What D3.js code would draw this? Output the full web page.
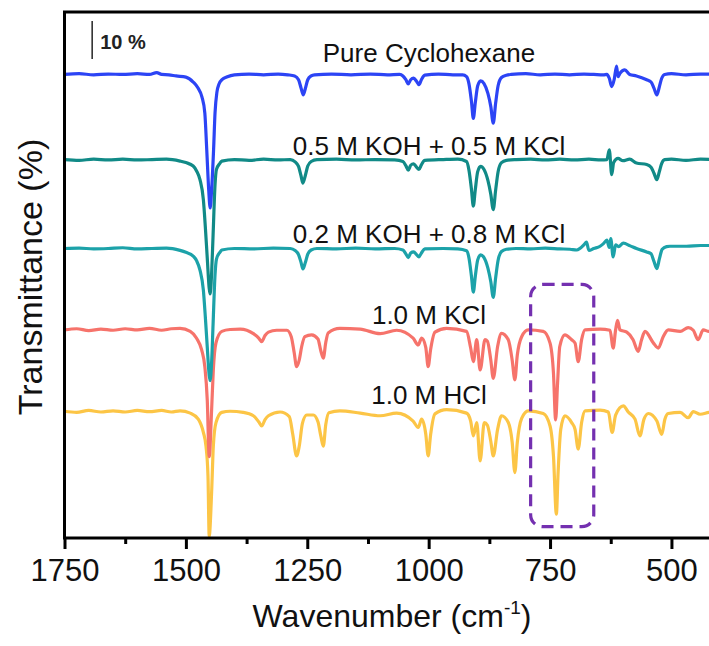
<!DOCTYPE html>
<html>
<head>
<meta charset="utf-8">
<script src="https://cdn.jsdelivr.net/npm/d3@7"></script>
<style>
  body { margin: 0; background: #fff; }
  svg { display: block; font-family: Arial, "Liberation Sans", sans-serif; }
</style>
</head>
<body>
<svg id="chart" width="709" height="646"></svg>
<script>
// ---- data ----
const majorTicks = [1750, 1500, 1250, 1000, 750, 500];
const minorTicks = [1625, 1375, 1125, 875, 625];
const seriesNames = ["Pure Cyclohexane", "0.5 M KOH + 0.5 M KCl", "0.2 M KOH + 0.8 M KCl", "1.0 M KCl", "1.0 M HCl"];
const seriesColors = ["#2c44f5", "#118a87", "#1ca2a9", "#f6736b", "#fcc546"];
const seriesOffsets = [26.5, 4, -19.5, -41, -62.5];

// [wavenumber (cm-1), transmittance (%)]
const cyclohexane = [
  [1750,96.0],[1720,96.2],[1690,95.9],[1660,96.1],[1630,96.0],[1600,96.2],[1575,96.0],[1560,96.5],[1550,96.0],[1535,95.9],
  [1520,95.6],[1500,95.3],[1485,94.0],[1475,92.4],[1467,90.1],[1461,85.8],[1457,76.0],[1453,65.5],[1450,60.7],[1447,65.5],
  [1443,76.0],[1440,85.8],[1436,91.4],[1432,93.4],[1425,94.7],[1416,95.3],[1400,95.9],[1370,96.1],[1340,95.9],[1310,96.1],
  [1290,95.9],[1276,95.6],[1268,94.6],[1263,92.5],[1258,90.6],[1254,92.3],[1249,94.6],[1242,95.6],[1235,95.9],[1200,96.1],
  [1160,95.9],[1120,96.1],[1085,95.9],[1060,96.0],[1053,95.6],[1047,94.6],[1042,93.5],[1037,94.6],[1031,95.0],[1025,94.2],
  [1020,93.3],[1015,94.6],[1008,95.8],[980,96.1],[950,95.9],[930,95.9],[922,95.4],[917,93.5],[912,89.0],[908,84.4],
  [904,88.5],[899,93.0],[893,94.3],[886,93.6],[878,91.0],[872,87.5],[867,83.1],[862,88.5],[857,93.0],[850,95.2],
  [840,95.8],[830,96.0],[800,96.2],[770,95.9],[740,96.1],[710,95.9],[680,96.1],[660,96.0],[640,95.9],[633,96.0],
  [628,95.0],[623,92.8],[618,94.6],[613,98.2],[610,95.4],[606,96.3],[596,97.2],[586,96.0],[572,95.6],[551,94.6],
  [542,94.0],[536,92.4],[530,90.6],[525,92.7],[520,95.0],[514,96.0],[500,96.2],[470,95.9],[440,96.1],[400,96.0]
];
const koh05 = [
  [1750,96.0],[1720,95.8],[1690,96.1],[1660,95.9],[1630,96.1],[1600,95.9],[1570,96.0],[1540,96.1],[1512,95.6],[1500,95.2],
  [1485,94.3],[1478,93.0],[1471,90.7],[1464,85.4],[1460,78.3],[1456,70.0],[1452,62.0],[1450,60.5],[1447,66.0],[1444,76.0],
  [1440,89.3],[1437,93.4],[1430,95.0],[1426,95.6],[1400,96.0],[1370,95.8],[1340,96.1],[1310,95.9],[1285,96.0],[1275,95.4],
  [1268,94.2],[1263,91.8],[1259,89.8],[1254,91.8],[1249,94.3],[1242,95.5],[1230,96.0],[1190,96.1],[1150,95.9],[1110,96.0],
  [1070,95.9],[1053,95.5],[1047,94.4],[1042,93.2],[1037,94.5],[1031,94.9],[1025,94.0],[1020,93.4],[1015,94.6],[1008,95.8],
  [970,96.0],[940,96.1],[922,95.5],[917,93.2],[912,88.3],[908,83.7],[904,88.0],[899,92.8],[893,94.2],[886,93.4],
  [878,90.5],[872,86.8],[867,82.8],[862,88.0],[857,92.8],[850,95.2],[840,95.8],[820,96.0],[790,96.1],[760,95.9],
  [730,96.1],[700,95.9],[670,96.1],[645,95.9],[633,96.0],[628,98.6],[623,92.0],[619,95.2],[610,96.3],[600,95.7],
  [586,96.1],[572,95.1],[551,94.7],[542,94.0],[536,92.4],[530,90.7],[525,92.8],[520,95.0],[514,96.0],[500,96.1],
  [470,95.8],[440,96.1],[400,96.0]
];
const koh02 = [
  [1750,96.0],[1720,96.1],[1690,95.9],[1660,96.0],[1630,96.2],[1600,95.9],[1570,96.0],[1540,96.1],[1512,95.5],[1500,95.0],
  [1485,94.0],[1478,92.8],[1471,90.3],[1464,85.0],[1460,78.0],[1456,70.0],[1452,62.5],[1450,61.1],[1447,66.0],[1444,76.0],
  [1440,89.0],[1437,93.2],[1430,95.0],[1426,95.6],[1400,96.0],[1360,95.9],[1320,96.1],[1285,96.0],[1275,95.5],[1268,94.4],
  [1263,92.4],[1259,90.6],[1254,92.3],[1249,94.5],[1242,95.6],[1230,96.0],[1190,95.9],[1150,96.1],[1110,95.9],[1070,96.0],
  [1053,95.6],[1047,94.6],[1042,93.6],[1037,94.8],[1031,95.1],[1025,94.4],[1020,93.8],[1015,94.8],[1008,95.9],[970,96.0],
  [940,95.9],[922,95.4],[917,93.5],[912,88.8],[908,84.5],[904,88.6],[899,93.0],[893,94.3],[886,93.6],[878,90.8],
  [872,87.2],[867,83.1],[862,88.3],[857,92.9],[850,95.2],[840,95.8],[820,96.0],[790,95.9],[760,96.1],[730,95.9],
  [709,95.8],[695,95.6],[680,97.0],[675,97.7],[670,95.5],[660,96.0],[647,96.6],[640,97.3],[633,98.2],[628,96.3],
  [625,98.6],[620,93.8],[615,97.0],[609,96.5],[599,97.4],[585,96.7],[572,96.0],[551,95.1],[542,94.6],[536,92.6],
  [530,90.7],[525,93.2],[519,95.8],[510,96.5],[503,96.6],[469,96.6],[440,96.8],[423,96.8],[400,96.8]
];
const kcl = [
  [1750,96.0],[1725,96.3],[1700,95.8],[1675,96.2],[1650,95.9],[1625,96.3],[1600,96.0],[1575,96.4],[1550,95.9],[1530,96.3],
  [1512,96.4],[1491,95.6],[1478,93.8],[1467.5,90.7],[1461,86.3],[1456,77.5],[1452,62.5],[1447,74.9],[1443.5,85.4],[1438,92.6],
  [1426,95.6],[1409,96.1],[1388,96.2],[1361,95.0],[1350,93.8],[1344,92.9],[1337,94.5],[1330,95.4],[1313,95.9],[1292,95.9],
  [1283,94.2],[1277,90.0],[1272,86.3],[1266.5,88.1],[1261.5,91.6],[1255,94.2],[1241,94.7],[1228,93.6],[1222,90.4],[1217,88.5],
  [1212,92.6],[1207,95.2],[1183,96.4],[1141,96.2],[1100,95.0],[1066,95.9],[1032,93.8],[1021.5,92.0],[1014.5,93.8],[1006,91.4],
  [1001,86.3],[996,90.8],[987,95.4],[963,96.4],[922,95.6],[913.5,91.2],[908,87.6],[901,93.4],[894,85.4],[884,93.4],
  [879,93.0],[872,88.0],[867,83.2],[858,91.6],[850,95.1],[836,93.4],[828,88.0],[822.5,82.8],[817.5,89.3],[808.5,94.2],
  [795,96.0],[764,95.6],[750,92.5],[743,84.6],[738.5,72.2],[734.5,82.0],[730,91.6],[719.5,94.7],[705.5,93.4],[698.5,92.5],
  [692,87.6],[685,93.4],[678,96.0],[647,96.2],[626.5,95.9],[620,91.2],[615,96.0],[611,98.5],[606,96.0],[592,95.4],
  [579,93.4],[568.5,90.3],[561.5,93.4],[554.5,95.6],[537,92.5],[527,91.2],[517,94.2],[506.5,96.0],[482,95.6],[465.5,96.6],
  [455,95.9],[445,93.4],[434.5,96.0],[423,95.6],[400,96.0]
];
const hcl = [
  [1750,96.0],[1725,95.7],[1700,96.2],[1675,95.8],[1650,96.1],[1625,95.8],[1600,96.2],[1575,95.9],[1550,96.2],[1530,95.8],
  [1512,96.1],[1491,95.5],[1474.5,93.9],[1464,90.4],[1458.6,86.8],[1454.5,78.9],[1452,63.0],[1447,74.6],[1443.5,86.8],[1438,93.0],
  [1426,95.7],[1409,96.0],[1382,95.7],[1361,94.8],[1350,93.2],[1344,92.1],[1337,93.8],[1330,94.8],[1306,95.8],[1287,94.6],
  [1280,90.0],[1272,84.2],[1266.5,86.8],[1260,92.8],[1251,95.0],[1237.6,95.0],[1228,93.2],[1222,89.4],[1217,86.8],[1212,92.4],
  [1205.5,95.6],[1183,96.1],[1141,95.5],[1100,94.8],[1066,95.5],[1032,93.4],[1021.5,91.7],[1014.5,93.9],[1006,90.0],[1001,84.2],
  [996,89.8],[987,95.3],[963,96.4],[922,95.5],[913.5,93.4],[908,89.5],[901,93.0],[894,82.9],[885.5,93.0],[879,92.3],
  [872,88.0],[867,84.2],[858,91.2],[850,94.8],[836,93.0],[828,87.8],[822.5,79.8],[817.5,87.7],[808.5,94.1],[795,96.1],
  [764,95.4],[750,92.1],[743,84.2],[737,68.8],[733.5,79.6],[728,91.2],[719.5,94.8],[705.5,93.0],[698.5,91.2],[692,86.0],
  [685,93.0],[678,96.1],[647,96.3],[630,95.8],[622,90.4],[615,95.0],[599,97.4],[589,95.8],[575,93.9],[565,89.5],
  [556.5,93.9],[547.5,95.4],[530,93.4],[520,89.9],[513.5,93.9],[506.5,95.4],[482,95.7],[465.5,94.3],[455,95.9],[441,95.2],
  [423,95.7],[400,96.0]
];
const spectra = [cyclohexane, koh05, koh02, kcl, hcl];

// highlighted band (cm-1) and its vertical extent (stacked %)
const highlightBand = [790, 660];
const highlightLevels = [3, 67];
// scale bar: 10 % at ~1693 cm-1
const scaleBarAt = 1693;
const scaleBarLevels = [126.6, 136.6];

// ---- layout ----
const svg = d3.select("#chart");
const plot = { left: 64.5, right: 720, top: 12, bottom: 538 };

const x = d3.scaleLinear().domain([1750, 400]).range([plot.left, plot.right]);
const y = d3.scaleLinear().domain([0, 139]).range([plot.bottom, plot.top]);

svg.append("defs").append("clipPath").attr("id", "clip")
  .append("rect")
  .attr("x", plot.left).attr("y", plot.top)
  .attr("width", plot.right - plot.left).attr("height", plot.bottom - plot.top);

const line = d3.line()
  .x(d => x(d[0]))
  .y(d => y(d[1]))
  .curve(d3.curveMonotoneX);

// draw bottom-most trace first so the blue one sits on top
const traceGroup = svg.append("g").attr("clip-path", "url(#clip)");
d3.range(spectra.length).reverse().forEach(i => {
  traceGroup.append("path")
    .datum(spectra[i].map(d => [d[0], d[1] + seriesOffsets[i]]))
    .attr("fill", "none")
    .attr("stroke", seriesColors[i])
    .attr("stroke-width", 3.2)
    .attr("stroke-linejoin", "round")
    .attr("d", line);
});

// dashed highlight box
svg.append("rect")
  .attr("x", x(highlightBand[0]))
  .attr("y", y(highlightLevels[1]))
  .attr("width", x(highlightBand[1]) - x(highlightBand[0]))
  .attr("height", y(highlightLevels[0]) - y(highlightLevels[1]))
  .attr("rx", 12).attr("ry", 12)
  .attr("fill", "none")
  .attr("stroke", "#7430b0")
  .attr("stroke-width", 3.2)
  .attr("stroke-dasharray", "12,7");

// series labels
const labelLift = [12.5, 5, 6, 6, 7];
seriesNames.forEach((name, i) => {
  svg.append("text")
    .attr("x", 429)
    .attr("y", y(96 + seriesOffsets[i]) - labelLift[i])
    .attr("text-anchor", "middle")
    .attr("font-size", 26)
    .attr("fill", "#111")
    .text(name);
});

// scale bar
svg.append("line")
  .attr("x1", x(scaleBarAt)).attr("x2", x(scaleBarAt))
  .attr("y1", y(scaleBarLevels[0])).attr("y2", y(scaleBarLevels[1]))
  .attr("stroke", "#333").attr("stroke-width", 1.6);
svg.append("text")
  .attr("x", x(scaleBarAt) + 8)
  .attr("y", (y(scaleBarLevels[0]) + y(scaleBarLevels[1])) / 2 + 9)
  .attr("font-size", 20)
  .attr("font-weight", "bold")
  .attr("fill", "#222")
  .text("10 %");

// frame
svg.append("rect")
  .attr("x", plot.left).attr("y", plot.top)
  .attr("width", plot.right - plot.left).attr("height", plot.bottom - plot.top)
  .attr("fill", "none").attr("stroke", "#000").attr("stroke-width", 3);

// x axis
const xAxis = svg.append("g")
  .attr("transform", `translate(0,${plot.bottom})`)
  .call(d3.axisBottom(x).tickValues(majorTicks).tickFormat(d3.format("d"))
    .tickSize(11).tickPadding(10).tickSizeOuter(0));
xAxis.select(".domain").remove();
xAxis.selectAll(".tick line").attr("stroke", "#000").attr("stroke-width", 3);
xAxis.selectAll(".tick text").attr("font-size", 31).attr("fill", "#111")
  .attr("font-family", "Arial, 'Liberation Sans', sans-serif");

const xMinor = svg.append("g")
  .attr("transform", `translate(0,${plot.bottom})`)
  .call(d3.axisBottom(x).tickValues(minorTicks).tickSize(6).tickFormat(""));
xMinor.select(".domain").remove();
xMinor.selectAll(".tick line").attr("stroke", "#000").attr("stroke-width", 3);

// axis titles
const xTitle = svg.append("text")
  .attr("x", 392).attr("y", 627)
  .attr("text-anchor", "middle")
  .attr("font-size", 32)
  .attr("fill", "#111");
xTitle.append("tspan").text("Wavenumber (cm");
xTitle.append("tspan").attr("font-size", 19).attr("dy", -13).text("-1");
xTitle.append("tspan").attr("dy", 13).text(")");

svg.append("text")
  .attr("transform", "translate(42,277) rotate(-90)")
  .attr("text-anchor", "middle")
  .attr("font-size", 34)
  .attr("fill", "#111")
  .text("Transmittance (%)");
</script>
</body>
</html>
